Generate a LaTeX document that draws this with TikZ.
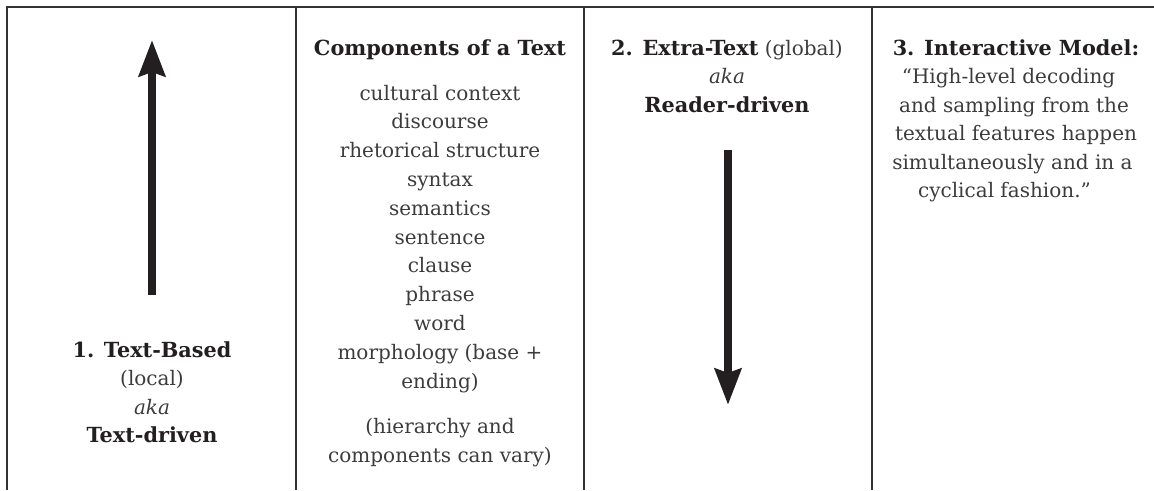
\documentclass[tikz,border=0pt]{standalone}
\usepackage{fontspec}
\setmainfont{DejaVu Serif}
\usetikzlibrary{arrows.meta}
\definecolor{ink}{HTML}{231F20}
\definecolor{rulecol}{HTML}{333333}
\definecolor{txt}{HTML}{3C3C3C}
\newcommand{\boldsz}{\fontsize{20.8}{23}\selectfont\bfseries}
\begin{document}
\begin{tikzpicture}[x=1pt,y=-1pt,
  lbl/.style={anchor=base, inner sep=0pt, text=txt, font=\fontsize{20}{23}\selectfont},
  hd/.style={lbl, text=ink, font=\boldsz},
  gridline/.style={draw=rulecol, line width=1.3pt},
  bigarrow/.style={draw=ink, line width=8pt,
    -{Stealth[length=36pt,width=26pt,inset=4pt]}}]
\useasboundingbox (0,0) rectangle (1154,490);

% table rules: top edge, left edge and column separators
\coordinate (tl) at (7,7);
\coordinate (tr) at (1154,7);
\coordinate (bl) at (7,490);
\draw[gridline] (bl) -- (tl) -- (tr);
\foreach \cx/\nm in {296/s1,584/s2,872/s3}{
  \coordinate (\nm top) at (\cx,7);
  \coordinate (\nm bot) at (\cx,490);
  \draw[gridline] (\nm top) -- (\nm bot);
}

% column 1: bottom-up processing
\coordinate (upTail) at (152,295);
\coordinate (upTip) at (152,40);
\draw[bigarrow] (upTail) -- (upTip);
\node[hd]  (c1a) at (152,357)   {1. Text-Based};
\node[lbl] (c1b) at (152,385.5) {(local)};
\node[lbl] (c1c) at (152,414)   {\itshape aka};
\node[hd]  (c1d) at (152,442.5) {Text-driven};

% column 2: components of a text
\node[hd] (c2h) at (440,55) {Components of a Text};
\foreach \t [count=\i from 0] in {cultural context, discourse, rhetorical structure,
  syntax, semantics, sentence, clause, phrase, word, morphology (base +, ending)}{
  \node[lbl] (c2l\i) at (440,100+28.8*\i) {\t};
}
\node[lbl] (c2n1) at (440,433) {(hierarchy and};
\node[lbl] (c2n2) at (440,462) {components can vary)};

% column 3: top-down processing
\node[lbl] (c3a) at (727,55)   {\textcolor{ink}{\boldsz 2. Extra-Text} (global)};
\node[lbl] (c3b) at (727,83.5) {\itshape aka};
\node[hd]  (c3c) at (727,112)  {Reader-driven};
\coordinate (downTail) at (728,150);
\coordinate (downTip) at (728,405);
\draw[bigarrow] (downTail) -- (downTip);

% column 4: interactive model
\node[hd]  (c4h) at (1016,55)    {3. Interactive Model:};
\node[lbl] (c4a) at (1008.5,83.5) {“High-level decoding};
\node[lbl] (c4b) at (1014,112)    {and sampling from the};
\node[lbl] (c4c) at (1016,140.5)  {textual features happen};
\node[lbl] (c4d) at (1012.5,169)  {simultaneously and in a};
\node[lbl] (c4e) at (1004.5,197.5){cyclical fashion.”};
\end{tikzpicture}
\end{document}
